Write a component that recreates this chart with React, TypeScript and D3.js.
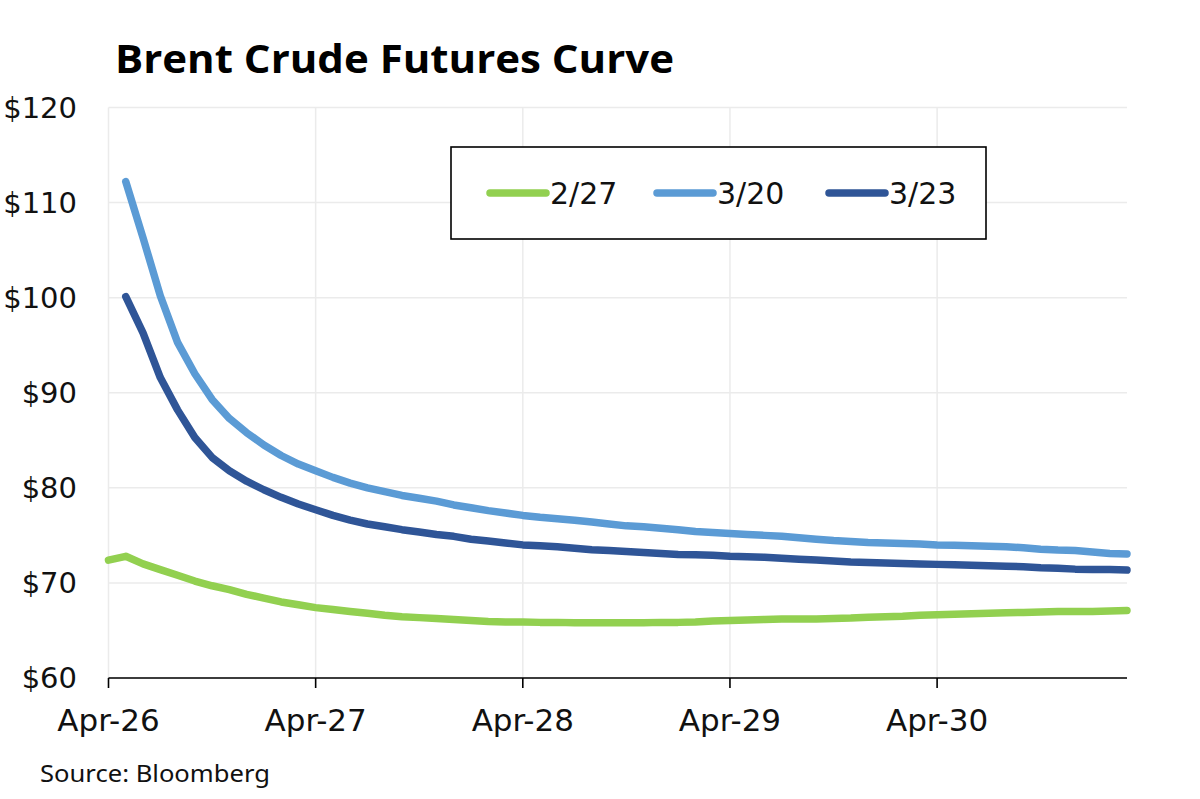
import React from "react";
import * as d3 from "d3";

const title = "Brent Crude Futures Curve";
const source = "Source: Bloomberg";
const xTickLabels = ["Apr-26", "Apr-27", "Apr-28", "Apr-29", "Apr-30"];
const xTickMonths = [0, 12, 24, 36, 48];
const yTicks = [60, 70, 80, 90, 100, 110, 120];
const seriesNames = ["2/27", "3/20", "3/23"];
const seriesColors = ["#92D050", "#5B9BD5", "#2F5597"];

// month index 0 = Apr-26
const feb27 = [
  72.4, 72.8, 72.0, 71.4, 70.8, 70.2, 69.7, 69.3, 68.8, 68.4, 68.0, 67.7, 67.4, 67.2, 67.0,
  66.8, 66.6, 66.45, 66.35, 66.25, 66.15, 66.05, 65.95, 65.9, 65.9, 65.85, 65.85, 65.8, 65.8,
  65.8, 65.8, 65.8, 65.85, 65.85, 65.9, 66.0, 66.05, 66.1, 66.15, 66.2, 66.2, 66.2, 66.25,
  66.3, 66.4, 66.45, 66.5, 66.6, 66.65, 66.7, 66.75, 66.8, 66.85, 66.9, 66.95, 67.0, 67.0,
  67.0, 67.05, 67.1,
];
// month index 1 = May-26 onward
const mar20 = [
  112.2, 106.3, 100.2, 95.3, 92.0, 89.3, 87.3, 85.8, 84.5, 83.4, 82.5, 81.8, 81.1, 80.5, 80.0,
  79.6, 79.2, 78.9, 78.6, 78.2, 77.9, 77.6, 77.35, 77.1, 76.9, 76.75, 76.6, 76.4, 76.2, 76.0,
  75.9, 75.75, 75.6, 75.4, 75.3, 75.2, 75.1, 75.0, 74.9, 74.75, 74.6, 74.45, 74.35, 74.25,
  74.2, 74.15, 74.1, 74.0, 73.95, 73.9, 73.85, 73.8, 73.7, 73.55, 73.45, 73.4, 73.25, 73.1,
  73.05,
];
const mar23 = [
  100.1, 96.3, 91.6, 88.2, 85.3, 83.2, 81.8, 80.7, 79.8, 79.0, 78.3, 77.7, 77.1, 76.6, 76.2,
  75.9, 75.6, 75.35, 75.1, 74.9, 74.6, 74.4, 74.2, 74.0, 73.9, 73.8, 73.65, 73.5, 73.4, 73.3,
  73.2, 73.1, 73.0, 72.95, 72.9, 72.8, 72.75, 72.7, 72.6, 72.5, 72.4, 72.3, 72.2, 72.15,
  72.1, 72.05, 72.0, 71.95, 71.9, 71.85, 71.8, 71.75, 71.7, 71.6, 71.55, 71.45, 71.4, 71.4,
  71.35,
];
const seriesStart = [0, 1, 1];

export default function App() {
  const W = 1200;
  const H = 799;
  const left = 108.5;
  const right = 1127;
  const top = 107.5;
  const bottom = 678;

  const x = d3.scaleLinear().domain([0, 59]).range([left, right]);
  const y = d3.scaleLinear().domain([60, 120]).range([bottom, top]);

  const allSeries = [feb27, mar20, mar23].map((vals, i) =>
    vals.map((v, j) => ({ m: j + seriesStart[i], v }))
  );
  const line = d3
    .line<{ m: number; v: number }>()
    .x((d) => x(d.m))
    .y((d) => y(d.v));

  const font = "'DejaVu Sans', 'Open Sans', sans-serif";
  const titleFont = "'Open Sans', 'DejaVu Sans', sans-serif";
  const grid = "#ebebeb";

  const legendX = [490, 657, 829];

  return (
    <svg
      width={W}
      height={H}
      style={{ position: "absolute", left: 0, top: 0, display: "block", background: "#fff" }}
    >
      <rect width={W} height={H} fill="#fff" />
      {yTicks.map((t) => (
        <line key={"h" + t} x1={left} x2={right} y1={y(t)} y2={y(t)} stroke={grid} strokeWidth={1.5} />
      ))}
      {xTickMonths.map((m) => (
        <line key={"v" + m} x1={x(m)} x2={x(m)} y1={top} y2={bottom} stroke={grid} strokeWidth={1.5} />
      ))}
      {yTicks.map((t) => (
        <text
          key={"yl" + t}
          x={77}
          y={y(t)}
          dy="0.36em"
          textAnchor="end"
          fontFamily={font}
          fontSize={29}
          fill="#111"
        >
          {"$" + t}
        </text>
      ))}
      <line x1={left} x2={right} y1={bottom} y2={bottom} stroke="#000" strokeWidth={1.6} />
      {xTickMonths.map((m, i) => (
        <g key={"xt" + m}>
          <line x1={x(m)} x2={x(m)} y1={bottom} y2={bottom + 10} stroke="#000" strokeWidth={1.6} />
          <text x={x(m)} y={731} textAnchor="middle" fontFamily={font} fontSize={31} fill="#111">
            {xTickLabels[i]}
          </text>
        </g>
      ))}
      {allSeries.map((s, i) => (
        <path
          key={"s" + i}
          d={line(s) || ""}
          fill="none"
          stroke={seriesColors[i]}
          strokeWidth={7.5}
          strokeLinecap="round"
          strokeLinejoin="round"
        />
      ))}
      <rect x={451} y={147} width={535} height={92} fill="#fff" stroke="#000" strokeWidth={1.6} />
      {seriesNames.map((n, i) => (
        <g key={"lg" + i}>
          <line
            x1={legendX[i]}
            x2={legendX[i] + 56}
            y1={193}
            y2={193}
            stroke={seriesColors[i]}
            strokeWidth={7.5}
            strokeLinecap="round"
          />
          <text x={legendX[i] + 60} y={204} fontFamily={font} fontSize={30} fill="#111">
            {n}
          </text>
        </g>
      ))}
      <text
        x={115}
        y={73}
        fontFamily={titleFont}
        fontWeight={700}
        fontSize={40}
        fill="#000"
        textLength={559}
        lengthAdjust="spacingAndGlyphs"
      >
        {title}
      </text>
      <text
        x={40}
        y={782}
        fontFamily="'Noto Sans', Roboto, sans-serif"
        fontSize={24}
        fill="#111"
        textLength={230}
        lengthAdjust="spacingAndGlyphs"
      >
        {source}
      </text>
    </svg>
  );
}
